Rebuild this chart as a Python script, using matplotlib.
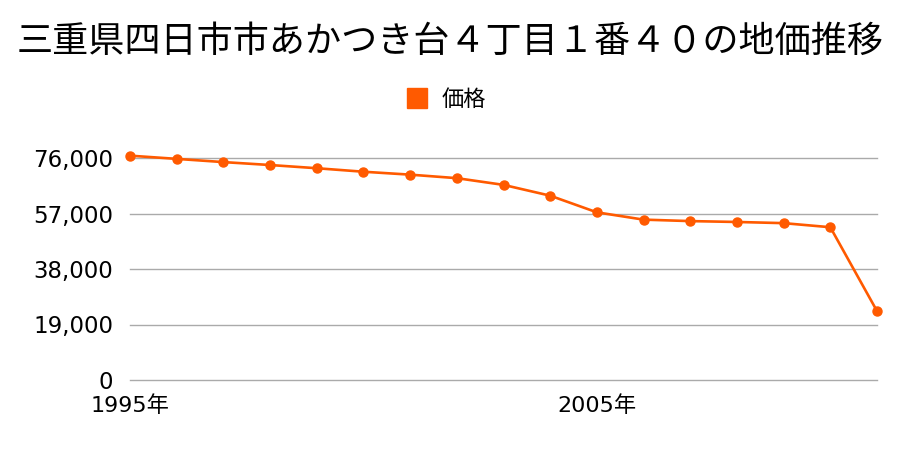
import matplotlib
matplotlib.use("Agg")
import matplotlib.pyplot as plt

plt.rcParams['font.family'] = ['Noto Sans CJK JP', 'DejaVu Sans']

years = list(range(1995, 2012))
prices = [76800, 75700, 74600, 73600, 72500, 71300, 70300, 69100, 66800,
          63100, 57400, 54900, 54400, 54100, 53700, 52300, 23600]
yticks = [0, 19000, 38000, 57000, 76000]
xticks = [1995, 2005]
xlabels = ["1995年", "2005年"]
title = "三重県四日市市あかつき台４丁目１番４０の地価推移"
color = "#ff5a00"
numfont = ['DejaVu Sans', 'Noto Sans CJK JP']

fig = plt.figure(figsize=(9, 4.5), dpi=100)
ax = fig.add_axes([130/900, 1-380/450, (877-130)/900, (380-158)/450])
ax.plot(years, prices, color=color, lw=1.9, marker="o", ms=6.5, clip_on=False,
        label="価格", zorder=3)
ax.set_xlim(1995, 2011)
ax.set_ylim(0, 76000)
ax.set_yticks(yticks)
ax.set_yticklabels([f"{v:,}" for v in yticks], fontsize=16.5, family=numfont)
ax.set_xticks(xticks)
ax.set_xticklabels(xlabels, fontsize=16, family=numfont)
ax.tick_params(axis="y", length=0, pad=12)
ax.tick_params(axis="x", length=0, pad=11)
for s in ax.spines.values():
    s.set_visible(False)
for v in yticks:
    ax.axhline(v, color="#aaaaaa", lw=1, zorder=1, clip_on=False)

fig.text(0.5, 1-42/450, title, ha="center", va="center", fontsize=26)
h = plt.Line2D([], [], color=color, marker="s", ls="none", ms=15)
fig.legend([h], ["価格"], loc="center", bbox_to_anchor=(440/900, 1-99/450),
           frameon=False, fontsize=16, handletextpad=0.1)

fig.savefig("out.png", dpi=100)
